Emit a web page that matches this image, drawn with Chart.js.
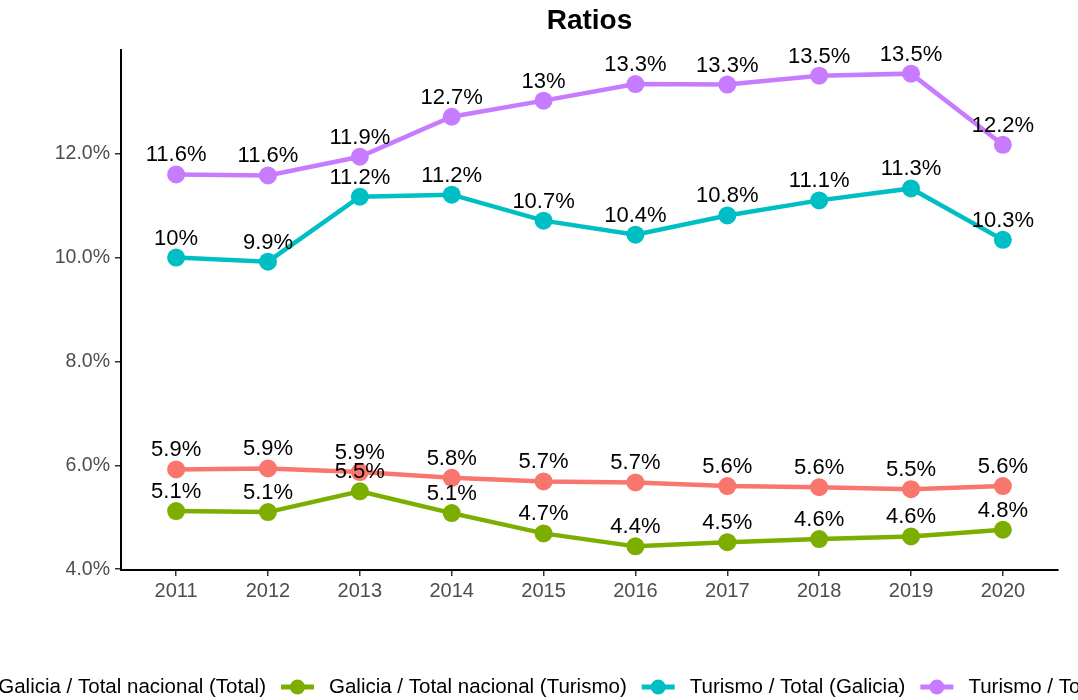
<!DOCTYPE html>
<html>
<head>
<meta charset="utf-8">
<script src="https://cdn.jsdelivr.net/npm/chart.js@4"></script>
<style>
  html, body { margin: 0; padding: 0; background: #fff; overflow: hidden; }
</style>
</head>
<body>
<canvas id="c1" width="1078" height="700"></canvas>
<script>
// data (percent)
var years = [2011, 2012, 2013, 2014, 2015, 2016, 2017, 2018, 2019, 2020];
var yTicks = [4, 6, 8, 10, 12];
var names = ['Galicia / Total nacional (Total)', 'Galicia / Total nacional (Turismo)', 'Turismo / Total (Galicia)', 'Turismo / Total (Total nacional)'];
var colors = ['#F8766D', '#7CAE00', '#00BFC4', '#C77CFF'];

var galTotal   = [5.92, 5.94, 5.87, 5.76, 5.69, 5.67, 5.60, 5.58, 5.54, 5.60];
var galTurismo = [5.12, 5.10, 5.50, 5.08, 4.69, 4.44, 4.52, 4.58, 4.63, 4.76];
var turGalicia = [10.00, 9.92, 11.17, 11.21, 10.71, 10.44, 10.81, 11.10, 11.33, 10.34];
var turNacional = [11.60, 11.58, 11.94, 12.71, 13.02, 13.34, 13.33, 13.50, 13.54, 12.17];

var series = [galTotal, galTurismo, turGalicia, turNacional];
var font = '"Liberation Sans", Arial, sans-serif';

var datasets = [];
for (var i = 0; i < series.length; i++) {
  datasets.push({
    label: names[i],
    data: series[i].map(function (v, j) { return { x: years[j], y: v }; }),
    borderColor: colors[i],
    backgroundColor: colors[i],
    borderWidth: 4.5,
    pointRadius: 9,
    pointHoverRadius: 9,
    pointBorderWidth: 0,
    tension: 0
  });
}

function fmt(v) { return parseFloat(v.toFixed(1)) + '%'; }

// value labels above the points
var labelsPlugin = {
  id: 'valueLabels',
  afterDatasetsDraw: function (chart) {
    var ctx = chart.ctx;
    ctx.save();
    ctx.font = '22px ' + font;
    ctx.fillStyle = '#000';
    ctx.textAlign = 'center';
    ctx.textBaseline = 'alphabetic';
    chart.data.datasets.forEach(function (ds, i) {
      var meta = chart.getDatasetMeta(i);
      meta.data.forEach(function (pt, j) {
        ctx.fillText(fmt(series[i][j]), pt.x, pt.y - 13);
      });
    });
    ctx.restore();
  }
};

// title centred over the panel
var titlePlugin = {
  id: 'panelTitle',
  afterDraw: function (chart) {
    var ctx = chart.ctx, a = chart.chartArea;
    ctx.save();
    ctx.font = 'bold 28px ' + font;
    ctx.fillStyle = '#000';
    ctx.textAlign = 'center';
    ctx.textBaseline = 'middle';
    ctx.fillText('Ratios', (a.left + a.right) / 2, 21);
    ctx.restore();
  }
};

// ggplot-like bottom legend, centred on the panel, wider than the page so it gets clipped
var legendPlugin = {
  id: 'bottomLegend',
  afterDraw: function (chart) {
    var ctx = chart.ctx, a = chart.chartArea;
    ctx.save();
    ctx.font = '20.5px ' + font;
    var keyW = 33, keyGap = 15, itemGap = 15, y = 687;
    var widths = names.map(function (n) { return ctx.measureText(n).width; });
    var total = 0;
    widths.forEach(function (w) { total += keyW + keyGap + w; });
    total += itemGap * (names.length - 1);
    var x = (a.left + a.right) / 2 + 9 - total / 2;
    for (var i = 0; i < names.length; i++) {
      ctx.strokeStyle = colors[i];
      ctx.lineWidth = 5;
      ctx.beginPath();
      ctx.moveTo(x, y);
      ctx.lineTo(x + keyW, y);
      ctx.stroke();
      ctx.fillStyle = colors[i];
      ctx.beginPath();
      ctx.arc(x + keyW / 2, y, 7.5, 0, Math.PI * 2);
      ctx.fill();
      ctx.fillStyle = '#000';
      ctx.textAlign = 'left';
      ctx.textBaseline = 'middle';
      ctx.fillText(names[i], x + keyW + keyGap, y);
      x += keyW + keyGap + widths[i] + itemGap;
    }
    ctx.restore();
  }
};

var ctx = document.getElementById('c1').getContext('2d');
var chart1 = new Chart(ctx, {
  type: 'line',
  data: { datasets: datasets },
  plugins: [labelsPlugin, titlePlugin, legendPlugin],
  options: {
    responsive: false,
    animation: false,
    events: [],
    layout: { padding: { left: 0, right: 20, top: 50, bottom: 90 } },
    plugins: {
      legend: { display: false },
      title: { display: false },
      tooltip: { enabled: false }
    },
    scales: {
      x: {
        type: 'linear',
        min: 2010.4,
        max: 2020.6,
        afterFit: function (s) { s.height = 40; },
        afterBuildTicks: function (s) { s.ticks = years.map(function (v) { return { value: v }; }); },
        ticks: {
          color: '#4d4d4d',
          font: { family: font, size: 20 },
          padding: 3,
          maxRotation: 0,
          autoSkip: false,
          callback: function (v) { return String(v); }
        },
        grid: { drawOnChartArea: false, tickLength: 6, color: '#333', lineWidth: 1.5 },
        border: { display: true, color: '#000', width: 2 }
      },
      y: {
        min: 3.985,
        max: 13.995,
        afterFit: function (s) { s.width = 121; },
        afterBuildTicks: function (s) { s.ticks = yTicks.map(function (v) { return { value: v }; }); },
        ticks: {
          color: '#4d4d4d',
          font: { family: font, size: 19.5 },
          padding: 5,
          callback: function (v) { return v.toFixed(1) + '%'; }
        },
        grid: { drawOnChartArea: false, tickLength: 6, color: '#333', lineWidth: 1.5 },
        border: { display: true, color: '#000', width: 2 }
      }
    }
  }
});
</script>
</body>
</html>
